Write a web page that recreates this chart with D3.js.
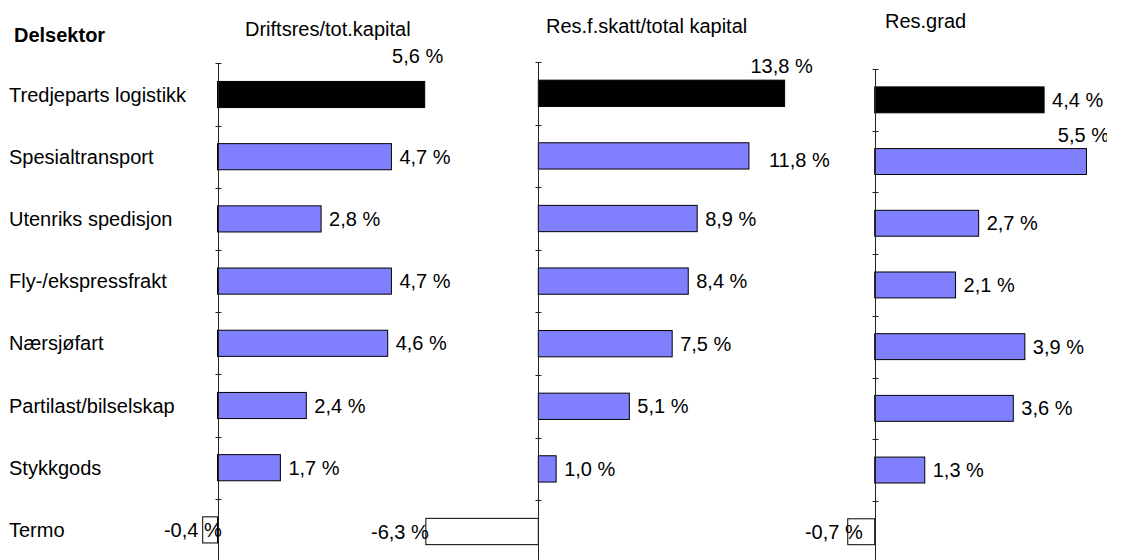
<!DOCTYPE html>
<html>
<head>
<meta charset="utf-8">
<script src="https://cdn.jsdelivr.net/npm/d3@7"></script>
<style>
  html, body { margin: 0; padding: 0; background: #fff; }
  svg { display: block; font-family: "Liberation Sans", Arial, sans-serif; }
</style>
</head>
<body>
<svg id="chart" width="1123" height="560"></svg>
<script>
// Sector key figures, one small array per measure
const categories = [
  "Tredjeparts logistikk",
  "Spesialtransport",
  "Utenriks spedisjon",
  "Fly-/ekspressfrakt",
  "Nærsjøfart",
  "Partilast/bilselskap",
  "Stykkgods",
  "Termo"
];
const driftsresTotKapital = [5.6, 4.7, 2.8, 4.7, 4.6, 2.4, 1.7, -0.4];
const resFSkattTotalKapital = [13.8, 11.8, 8.9, 8.4, 7.5, 5.1, 1.0, -6.3];
const resGrad = [4.4, 5.5, 2.7, 2.1, 3.9, 3.6, 1.3, -0.7];
const panelTitles = ["Driftsres/tot.kapital", "Res.f.skatt/total kapital", "Res.grad"];
const headerLabel = "Delsektor";

// Layout of the three small-multiple panels
const panels = [
  { title: panelTitles[0], values: driftsresTotKapital,
    domain: [-1, 6], range: [180.5, 439.5], yRange: [63.4, 561],
    titleX: 245, titleY: 36, labelLimit: 470 },
  { title: panelTitles[1], values: resFSkattTotalKapital,
    domain: [-8, 14], range: [395.5, 788.2], yRange: [62, 562.8],
    titleX: 546, titleY: 33, labelLimit: 845 },
  { title: panelTitles[2], values: resGrad,
    domain: [-1, 6], range: [836.2, 1105.7], yRange: [69, 562.6],
    titleX: 885, titleY: 28, labelLimit: 1110, clipRight: 1107 }
];

// Fine adjustments of individual value labels (panel index : category)
const labelNudges = {
  "0:Tredjeparts logistikk": { dx: -4, dy: -12 },
  "1:Spesialtransport": { dx: 12, dy: 4 },
  "0:Termo": { dx: 16, dy: 0 },
  "2:Termo": { dx: 12, dy: 0 }
};

const fmt = v => d3.format(".1f")(v).replace(".", ",").replace("−", "-") + " %";
const FONT = 20;
const svg = d3.select("#chart");

// Header and category names
svg.append("text")
  .attr("x", 14).attr("y", 42)
  .attr("font-size", FONT).attr("font-weight", "bold")
  .text(headerLabel);

const catScale = d3.scaleBand().domain(categories)
  .range(panels[0].yRange).paddingInner(0.58).paddingOuter(0.29);

svg.append("g").selectAll("text").data(categories).join("text")
  .attr("x", 9)
  .attr("y", d => catScale(d) + catScale.bandwidth() / 2)
  .attr("dy", "0.35em")
  .attr("font-size", FONT)
  .text(d => d);

const defs = svg.append("defs");

panels.forEach((p, pi) => {
  const x = d3.scaleLinear().domain(p.domain).range(p.range);
  const y = d3.scaleBand().domain(categories)
    .range(p.yRange).paddingInner(0.58).paddingOuter(0.29);
  const rows = categories.map((c, i) => ({ cat: c, value: p.values[i], i }));
  const g = svg.append("g");

  if (p.clipRight) {
    defs.append("clipPath").attr("id", "clip" + pi)
      .append("rect").attr("x", 0).attr("y", 0)
      .attr("width", p.clipRight).attr("height", 560);
    g.attr("clip-path", `url(#clip${pi})`);
  }

  // Panel title
  g.append("text")
    .attr("x", p.titleX).attr("y", p.titleY)
    .attr("font-size", FONT)
    .text(p.title);

  // Bars
  g.append("g").selectAll("rect").data(rows).join("rect")
    .attr("x", d => Math.min(x(0), x(d.value)))
    .attr("y", d => y(d.cat))
    .attr("width", d => Math.abs(x(d.value) - x(0)))
    .attr("height", y.bandwidth())
    .attr("fill", d => d.i === 0 ? "#000000" : (d.value < 0 ? "#ffffff" : "#8080ff"))
    .attr("stroke", "#000")
    .attr("stroke-width", 1);

  // Category axis at zero, with ticks between bands
  const x0 = Math.round(x(0)) + 0.5;
  const axis = g.append("g");
  axis.append("line")
    .attr("x1", x0).attr("x2", x0)
    .attr("y1", p.yRange[0]).attr("y2", p.yRange[1])
    .attr("stroke", "#222").attr("stroke-width", 1);
  const tickYs = categories.map(c => y(c) - y.step() * y.paddingInner() / 2)
    .concat([p.yRange[1]]);
  axis.selectAll("line.tick").data(tickYs).join("line")
    .attr("class", "tick")
    .attr("x1", x0 - 3).attr("x2", x0 + 3)
    .attr("y1", d => Math.round(d) + 0.5).attr("y2", d => Math.round(d) + 0.5)
    .attr("stroke", "#222").attr("stroke-width", 1);

  // Value labels
  const labels = g.append("g").selectAll("text").data(rows).join("text")
    .attr("font-size", FONT)
    .attr("dy", "0.35em")
    .text(d => fmt(d.value));

  labels.each(function (d) {
    const t = d3.select(this);
    const w = this.getComputedTextLength();
    const n = labelNudges[pi + ":" + d.cat] || { dx: 0, dy: 0 };
    const cy = y(d.cat) + y.bandwidth() / 2;
    if (d.value < 0) {
      t.attr("text-anchor", "end")
        .attr("x", x(d.value) + 3 + n.dx)
        .attr("y", cy + n.dy);
    } else if (x(d.value) + 8 + w > p.labelLimit) {
      // no room to the right: set the label above the bar end
      t.attr("text-anchor", "middle")
        .attr("x", x(d.value) - 3 + n.dx)
        .attr("y", cy - 27 + n.dy);
    } else {
      t.attr("text-anchor", "start")
        .attr("x", x(d.value) + 8 + n.dx)
        .attr("y", cy + n.dy);
    }
  });
});
</script>
</body>
</html>
